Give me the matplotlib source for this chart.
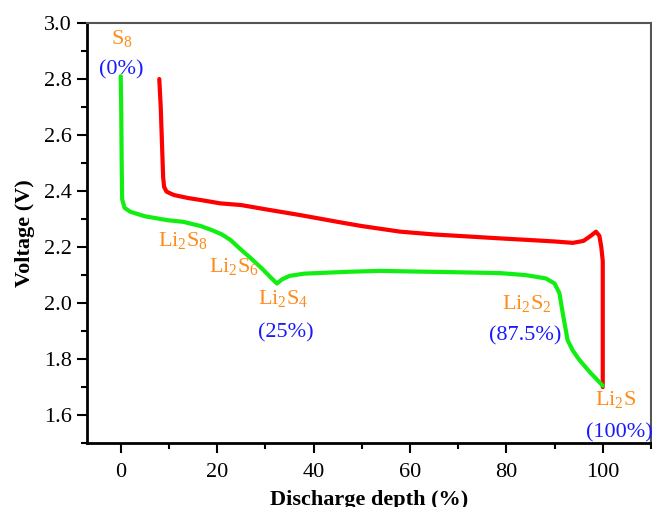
import matplotlib
matplotlib.use("Agg")
import matplotlib.pyplot as plt
from matplotlib.ticker import MultipleLocator

plt.rcParams['font.family'] = ['Liberation Serif', 'DejaVu Serif']
plt.rcParams['mathtext.fontset'] = 'custom'
plt.rcParams['mathtext.rm'] = 'Liberation Serif'
plt.rcParams['mathtext.it'] = 'Liberation Serif'

# 赤線 (discharge depth %, voltage V)
red_x = [8.0, 8.3, 8.6, 8.8, 9.0, 9.5, 11, 14, 16.6, 20.7, 25, 30, 37.3, 45,
         50, 58, 65, 70, 78.7, 85, 90, 93.8, 96, 97.5, 98.6, 99.3, 99.7, 100, 100]
red_y = [2.80, 2.70, 2.55, 2.45, 2.415, 2.398, 2.386, 2.375, 2.368, 2.356,
         2.35, 2.335, 2.314, 2.29, 2.275, 2.255, 2.245, 2.24, 2.231, 2.225,
         2.22, 2.215, 2.222, 2.24, 2.255, 2.24, 2.2, 2.15, 1.70]

# 緑線
green_x = [0, 0.1, 0.2, 0.3, 0.8, 2, 5, 9.7, 13, 16.6, 19, 21, 22.8, 25, 27,
           29.5, 31.2, 32.4, 33.5, 35, 38, 42, 47.6, 53.8, 60, 70, 78.7, 84,
           88.2, 90, 91, 91.7, 92.7, 93.8, 95.2, 97.5, 100]
green_y = [2.81, 2.7, 2.5, 2.37, 2.34, 2.326, 2.31, 2.296, 2.29, 2.275, 2.26,
           2.245, 2.225, 2.19, 2.16, 2.12, 2.09, 2.07, 2.085, 2.097, 2.105,
           2.108, 2.112, 2.115, 2.113, 2.11, 2.107, 2.10, 2.088, 2.07, 2.036,
           1.964, 1.868, 1.83, 1.796, 1.75, 1.705]

# 注釈
species = ['S$_8$', 'Li$_2$S$_8$', 'Li$_2$S$_6$', 'Li$_2$S$_4$', 'Li$_2$S$_2$', 'Li$_2$S']
species_x = [0.2, 13, 23.4, 33.7, 84.2, 102.6]
species_y = [2.946, 2.225, 2.129, 2.018, 2.0, 1.657]
depth = ['(0%)', '(25%)', '(87.5%)', '(100%)']
depth_x = [0.2, 34.3, 84, 103.5]
depth_y = [2.832, 1.893, 1.882, 1.536]

fig = plt.figure(figsize=(6.52, 5.07), dpi=100)
ax = fig.add_axes([0.1334, 0.126, 0.865, 0.8286])

ax.plot(red_x, red_y, color='#ff0000', lw=3, solid_capstyle='round', solid_joinstyle='round')
ax.plot(green_x, green_y, color='#11ee11', lw=3, solid_capstyle='round', solid_joinstyle='round')

for s, x, y in zip(species, species_x, species_y):
    ax.text(x, y, s, color='#ff8c1a', fontsize=16, ha='center', va='center')
for s, x, y in zip(depth, depth_x, depth_y):
    ax.text(x, y, s, color='#1a1aff', fontsize=16, ha='center', va='center')

ax.set_xlim(-7, 110)
ax.set_ylim(1.5, 3.0)
ax.xaxis.set_major_locator(MultipleLocator(20))
ax.xaxis.set_minor_locator(MultipleLocator(10))
ax.yaxis.set_major_locator(MultipleLocator(0.2))
ax.yaxis.set_minor_locator(MultipleLocator(0.1))
ax.yaxis.set_major_formatter(matplotlib.ticker.FormatStrFormatter('%.1f'))

ax.tick_params(which='major', direction='out', length=7, width=1.5, labelsize=16)
ax.tick_params(which='minor', direction='out', length=4, width=1.5)
ax.tick_params(axis='x', pad=7)
ax.tick_params(axis='y', pad=4)

for side in ['left', 'bottom']:
    ax.spines[side].set_linewidth(2)
for side in ['top', 'right']:
    ax.spines[side].set_linewidth(1.5)
    ax.spines[side].set_color('#555555')

ax.set_xlabel('Discharge depth (%)', fontsize=16, fontweight='bold', labelpad=6)
ax.set_ylabel('Voltage (V)', fontsize=16, fontweight='bold', labelpad=6)

fig.savefig('out.png', dpi=100)
